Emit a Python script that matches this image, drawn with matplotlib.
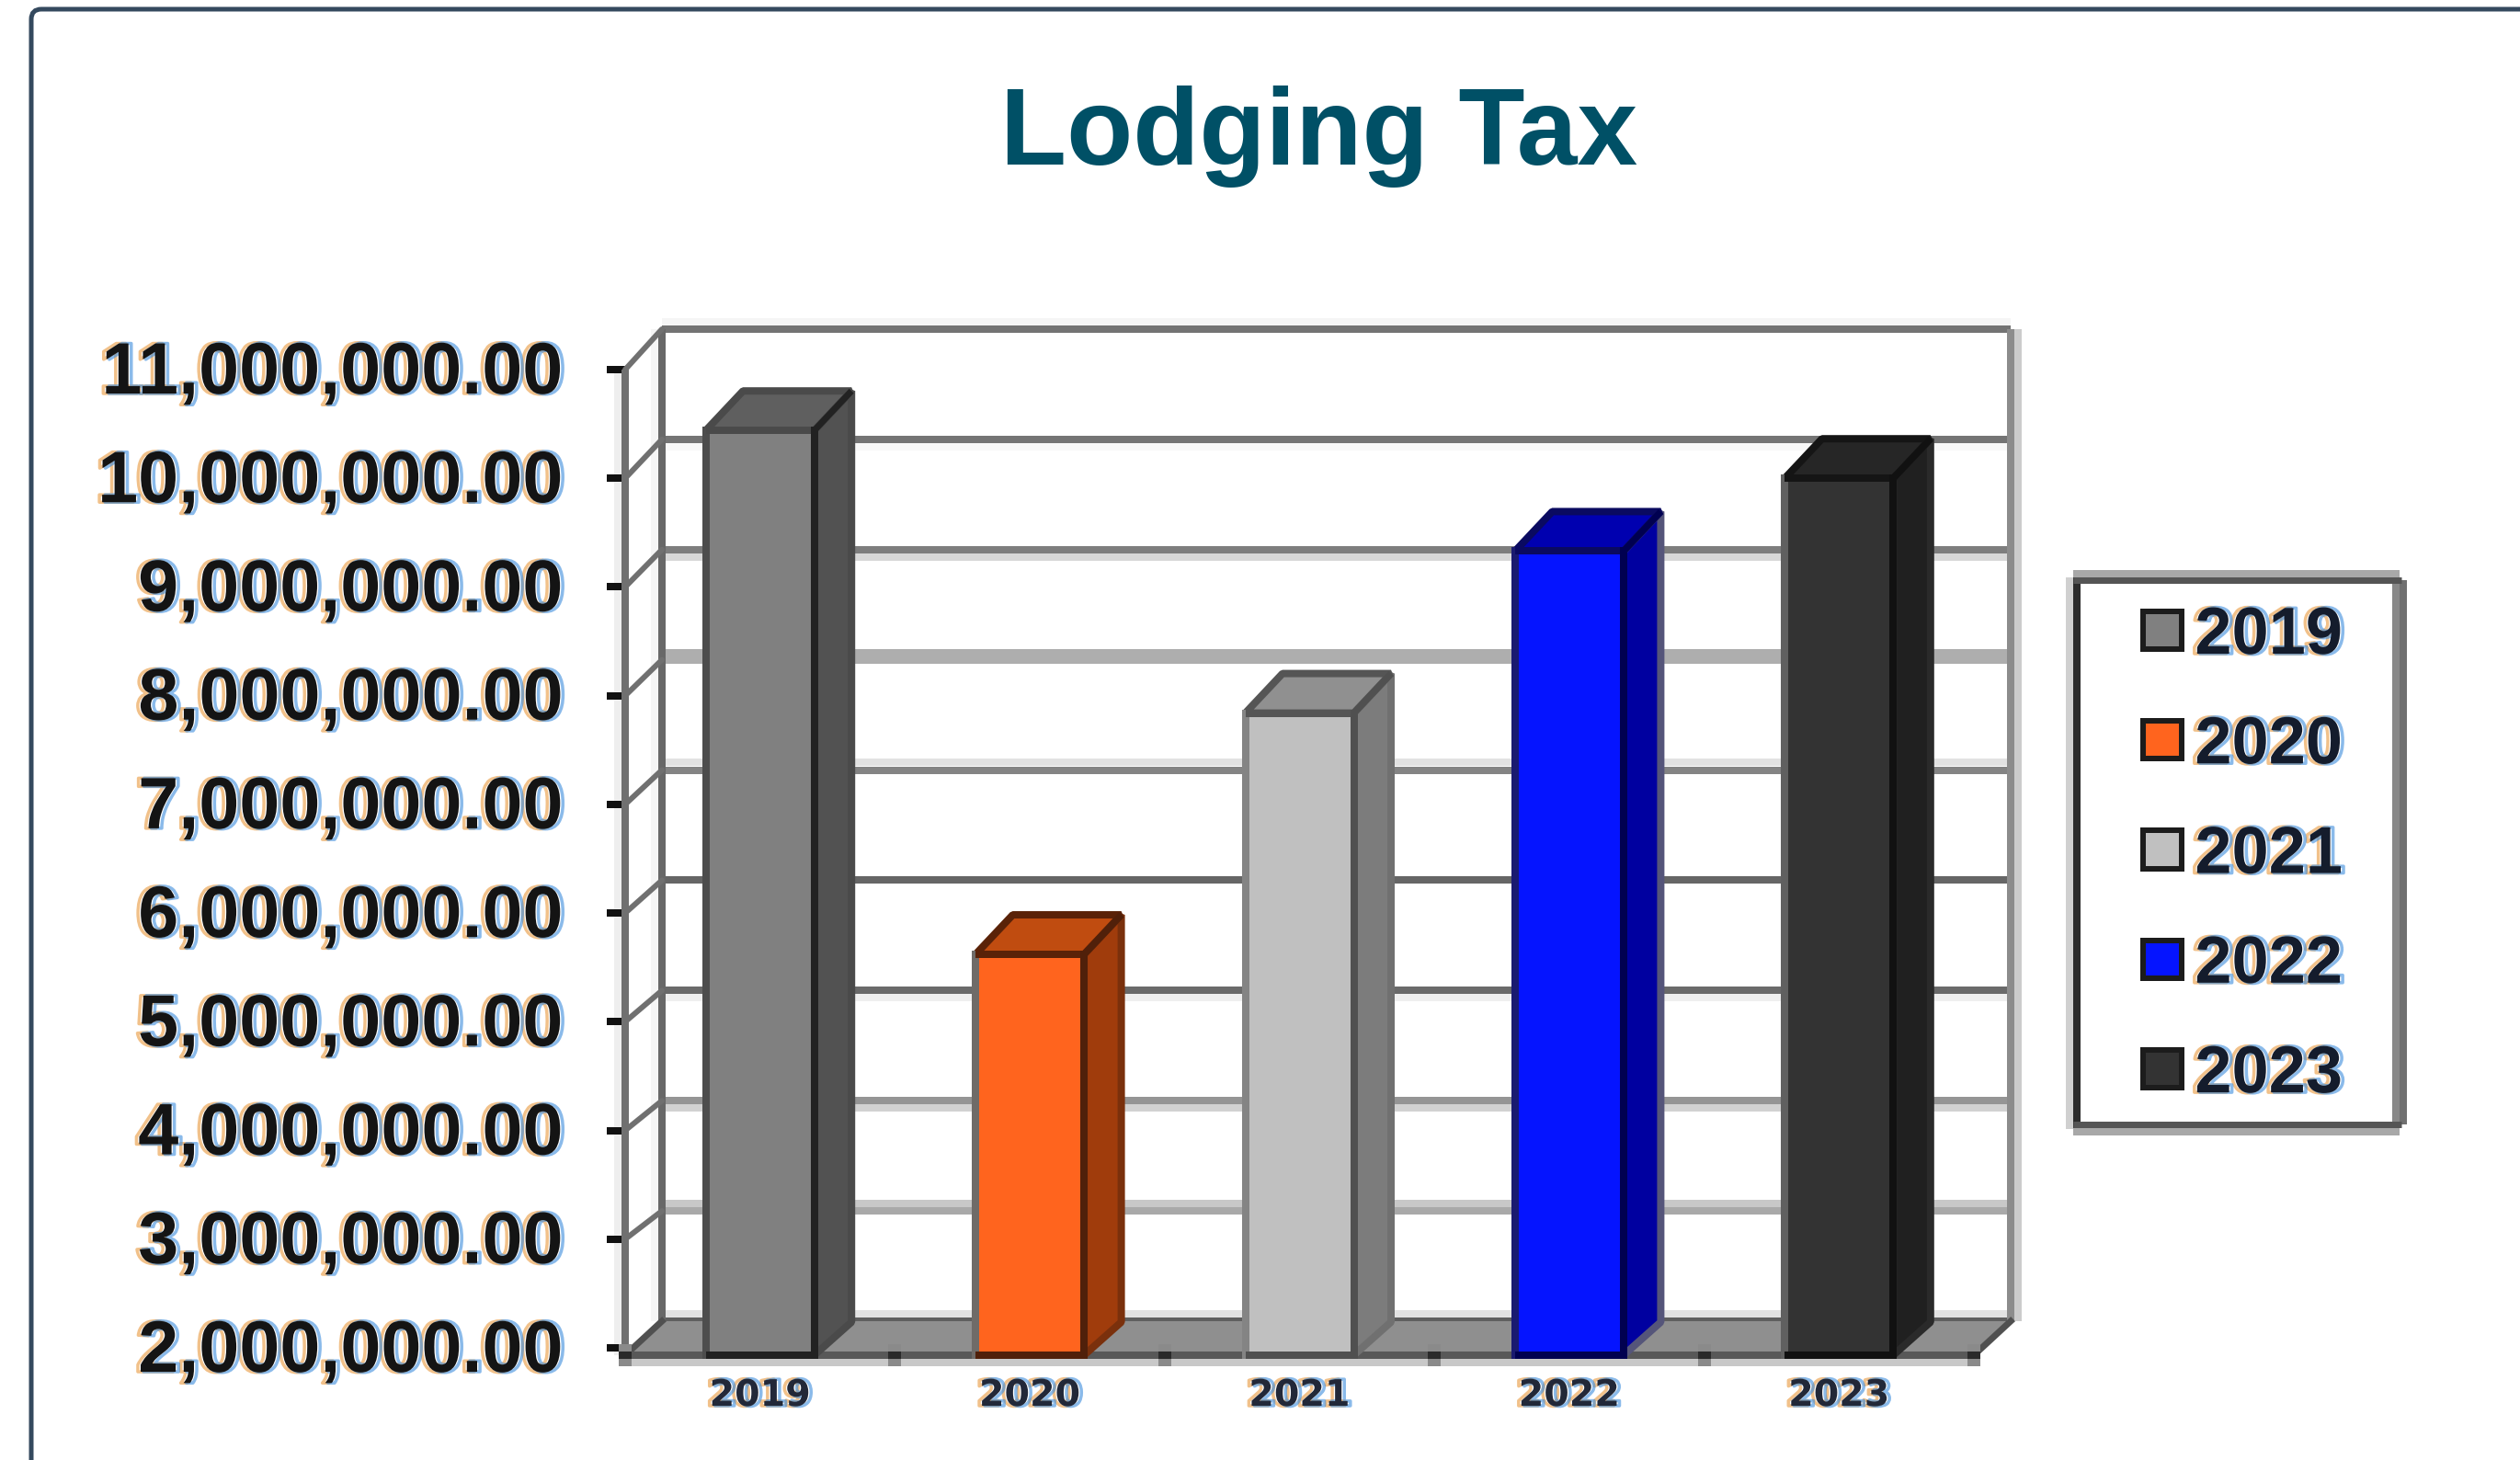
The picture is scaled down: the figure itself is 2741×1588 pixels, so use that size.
import matplotlib
matplotlib.use('Agg')
import matplotlib.pyplot as plt
import matplotlib.patheffects as pe
from matplotlib.lines import Line2D
from matplotlib.patches import ConnectionPatch, FancyBboxPatch, Patch, Polygon
from matplotlib.transforms import ScaledTranslation

W, H = 2741, 1588

years = ['2019', '2020', '2021', '2022', '2023']
tax = [10.44, 5.62, 7.84, 9.33, 10.0]   # millions
y_ticks = [2, 3, 4, 5, 6, 7, 8, 9, 10, 11]

# colours of each bar: front, top, side, outer edge, dark edge, left edge
front_col = ['#808080', '#ff641e', '#c0c0c0', '#0514ff', '#333333']
top_col = ['#5f5f5f', '#c04c10', '#909090', '#0000b0', '#262626']
side_col = ['#525252', '#a03c0c', '#7c7c7c', '#0000a0', '#202020']
outer_col = ['#4a4a4a', '#7a300c', '#707070', '#55557a', '#2a2a2a']
dark_col = ['#222222', '#50200a', '#505050', '#000050', '#111111']
left_col = ['#4d4d4d', '#6f6b68', '#848484', '#1a1a70', '#606060']
topedge_col = ['#4a4a4a', '#5a2208', '#555555', '#0a0a60', '#151515']

# gridlines came out uneven in the original, keep that
grid_col = ['#5f5f5f', '#a9a9a9', '#959595', '#6a6a6a', '#666666',
            '#848484', '#aeaeae', '#7e7e7e', '#747474', '#737373']
ghost_col = ['#e2e2e2', '#c8c8c8', '#d2d2d2', '#efefef', '#ffffff',
             '#e2e2e2', '#aeaeae', '#d8d8d8', '#f8f8f8', '#f5f5f5']
ghost_off = [1, 1, -1, -1, -1, 1, 1, -1, -1, 1]

PX = 0.72  # points per pixel at dpi 100
CAT = 293.4
SCALE = 118.2
DX = 40.5 / CAT
DY_TOP = 43 / SCALE
DY_FLOOR = 36 / SCALE
FLOOR = 2 - 8 / SCALE
BAR_W = 118 / CAT


def fig_x(x):
    return x / W


def fig_y(y):
    return 1 - y / H


plt.rcParams['font.family'] = ['Liberation Sans', 'DejaVu Sans']
fig = plt.figure(figsize=(W / 100, H / 100), dpi=100, facecolor='white')


def px_line(x0, y0, x1, y1, color, w, zorder=5):
    fig.add_artist(Line2D([fig_x(x0), fig_x(x1)], [fig_y(y0), fig_y(y1)], color=color,
                          lw=w * PX, solid_capstyle='butt', zorder=zorder))


# card border, runs off the page
fig.add_artist(FancyBboxPatch((fig_x(34), fig_y(H + 60)), (W + 60) / W, (H + 60 - 10) / H,
                              boxstyle='round,pad=0,rounding_size=0.004', mutation_aspect=W / H,
                              fc='white', ec='#34495e', lw=5 * PX, zorder=0))

fig.text(fig_x(1435), fig_y(149), 'Lodging Tax', color='#005066', fontsize=85, fontweight='bold',
         ha='center', va='center')

# back wall has its own slightly different scale
ax_back = fig.add_axes([fig_x(720), fig_y(1437), 1467 / W, 1079 / H], zorder=1)
ax_front = fig.add_axes([fig_x(680), fig_y(1466), 1467 / W, 1064 / H], zorder=2)
ax_front.patch.set_alpha(0)

for ax in (ax_back, ax_front):
    ax.set_xlim(-0.5, 4.5)
    ax.set_ylim(2, 11)
    for s in ax.spines.values():
        s.set_visible(False)

ax_back.set_xticks([])
ax_back.set_yticks([])
for v, c, g, o in zip(y_ticks, grid_col, ghost_col, ghost_off):
    off = o * 8 / SCALE
    ax_back.hlines(v + off, -0.5, 4.5, color=g, lw=8 * PX, zorder=1, clip_on=False)
    ax_back.hlines(v, -0.5, 4.5, color=c, lw=8 * PX, zorder=2, clip_on=False)
ax_back.vlines(-0.5, 2, 11, color='#686868', lw=8 * PX, zorder=3, clip_on=False)
ax_back.vlines(4.5, 2, 11, color='#8c8c8c', lw=8 * PX, zorder=3, clip_on=False)
ax_back.vlines(-0.5 - 8 / CAT, 2, 11, color='#f5f5f5', lw=8 * PX, zorder=0, clip_on=False)
ax_back.vlines(4.5 + 8 / CAT, 2, 11, color='#cccccc', lw=8 * PX, zorder=0, clip_on=False)


def back_pt(x, v):
    return ax_front.transData.inverted().transform(ax_back.transData.transform((x, v)))


# front axis, with the ticks
ax_front.vlines(-0.5, FLOOR, 11, color='#707070', lw=8 * PX, zorder=2, clip_on=False)
ax_front.vlines(-0.5 - 8 / CAT, FLOOR, 11, color='#eeeeee', lw=8 * PX, zorder=1, clip_on=False)
ax_front.set_yticks(y_ticks)
ax_front.set_yticklabels([f'{v * 1e6:,.2f}' for v in y_ticks], fontsize=57, fontweight='bold',
                         color='#141414')
ax_front.tick_params(axis='y', length=20 * PX, width=8 * PX, color='#111111', pad=48 * PX)
ax_front.set_xticks(range(len(years)))
ax_front.set_xticklabels(years, fontsize=28.5, fontweight='bold', family='DejaVu Sans', color='#222838')
ax_front.tick_params(axis='x', length=0, pad=32 * PX)

# fringe on the text like the blurry screenshot
fringe = [pe.SimpleLineShadow(offset=(-2.2, 0), shadow_color='#e8983c', alpha=0.6, linewidth=2.5),
          pe.SimpleLineShadow(offset=(2.2, 0), shadow_color='#3c8cdc', alpha=0.6, linewidth=2.5),
          pe.Normal()]
for lab in ax_front.get_yticklabels():
    lab.set_transform(lab.get_transform() + ScaledTranslation(0, 3 / 100, fig.dpi_scale_trans))
    lab.set_path_effects(fringe)
for lab in ax_front.get_xticklabels():
    lab.set_path_effects(fringe)

# diagonals between front axis and back wall
for v in y_ticks[1:]:
    ax_front.add_artist(ConnectionPatch(xyA=(-0.5, v), coordsA=ax_front.transData,
                                        xyB=(-0.5, v), coordsB=ax_back.transData,
                                        color='#707070', lw=6 * PX, zorder=3))

# floor
bl, br = back_pt(-0.5, 2), back_pt(4.5, 2)
ax_front.add_patch(Polygon([(-0.5, FLOOR), (4.5, FLOOR), br, bl], fc='#8f8f8f', ec='none', zorder=3,
                           clip_on=False))
ax_front.plot([-0.5, bl[0]], [FLOOR, bl[1]], color='#505050', lw=7 * PX, zorder=4, clip_on=False)
ax_front.plot([4.5, br[0]], [FLOOR, br[1]], color='#505050', lw=7 * PX, zorder=4, clip_on=False)
ax_front.hlines(FLOOR - 8 / SCALE, -0.5, 4.5, color='#c8c8c8', lw=8 * PX, zorder=3, clip_on=False)
ax_front.hlines(FLOOR, -0.5, 4.5, color='#585858', lw=8 * PX, zorder=4, clip_on=False)
marks = [i + 0.5 for i in range(-1, 5)]
ax_front.vlines(marks, FLOOR - 12 / SCALE, FLOOR + 12 / SCALE, color='#8a8a8a', lw=14 * PX, zorder=4, clip_on=False)
ax_front.vlines(marks, FLOOR - 4 / SCALE, FLOOR + 4 / SCALE, color='#2a2a2a', lw=14 * PX, zorder=4, clip_on=False)

# bars
for i, v in enumerate(tax):
    l, r = i - BAR_W / 2, i + BAR_W / 2
    ax_front.add_patch(Polygon([(r, FLOOR), (r + DX, FLOOR + DY_FLOOR), (r + DX, v + DY_TOP), (r, v)],
                               fc=side_col[i], ec=outer_col[i], lw=8 * PX, zorder=5, joinstyle='bevel',
                               clip_on=False))
    ax_front.add_patch(Polygon([(l, v), (r, v), (r + DX, v + DY_TOP), (l + DX, v + DY_TOP)],
                               fc=top_col[i], ec=topedge_col[i], lw=8 * PX, zorder=5, joinstyle='bevel',
                               clip_on=False))
    ax_front.bar(i, v - FLOOR, BAR_W, bottom=FLOOR, color=front_col[i], zorder=6, clip_on=False)
    ax_front.plot([l, l], [FLOOR, v], color=left_col[i], lw=8 * PX, zorder=7, solid_capstyle='projecting',
                  clip_on=False)
    ax_front.plot([l, r], [FLOOR, FLOOR], color=dark_col[i], lw=8 * PX, zorder=7, solid_capstyle='butt',
                  clip_on=False)
    ax_front.plot([l, r], [v, v], color=topedge_col[i], lw=8 * PX, zorder=7, solid_capstyle='butt')
    ax_front.plot([r, r], [FLOOR, v], color=dark_col[i], lw=8 * PX, zorder=8, solid_capstyle='projecting',
                  clip_on=False)
    ax_front.plot([r, r + DX], [v, v + DY_TOP], color=dark_col[i], lw=7 * PX, zorder=8, solid_capstyle='butt')

# legend, frame drawn by hand because each side has its own shade
handles = [Patch(fc=front_col[i], ec='#1c1c1c', lw=6 * PX) for i in range(len(years))]
leg = fig.legend(handles, years, loc='upper left', bbox_to_anchor=(fig_x(2331), fig_y(658)), borderaxespad=0,
                 borderpad=0, frameon=False, prop={'weight': 'bold', 'size': 52},
                 handlelength=0.58, handleheight=0.5, handletextpad=0.2, labelspacing=0.71)
for t in leg.get_texts():
    t.set_color('#141c2c')
    t.set_path_effects(fringe)
px_line(2251, 628, 2251, 1228, '#d0d0d0', 8)
px_line(2255, 624, 2610, 624, '#a8a8a8', 8)
px_line(2255, 1231, 2610, 1231, '#a8a8a8', 8)
px_line(2606, 631, 2606, 1223, '#888888', 8)
px_line(2614, 631, 2614, 1223, '#707070', 8)
px_line(2259, 628, 2259, 1227, '#2c2c2c', 8)
px_line(2255, 631, 2612, 631, '#555555', 7)
px_line(2255, 1223, 2612, 1223, '#555555', 7)

fig.savefig('out.png', dpi=100)
